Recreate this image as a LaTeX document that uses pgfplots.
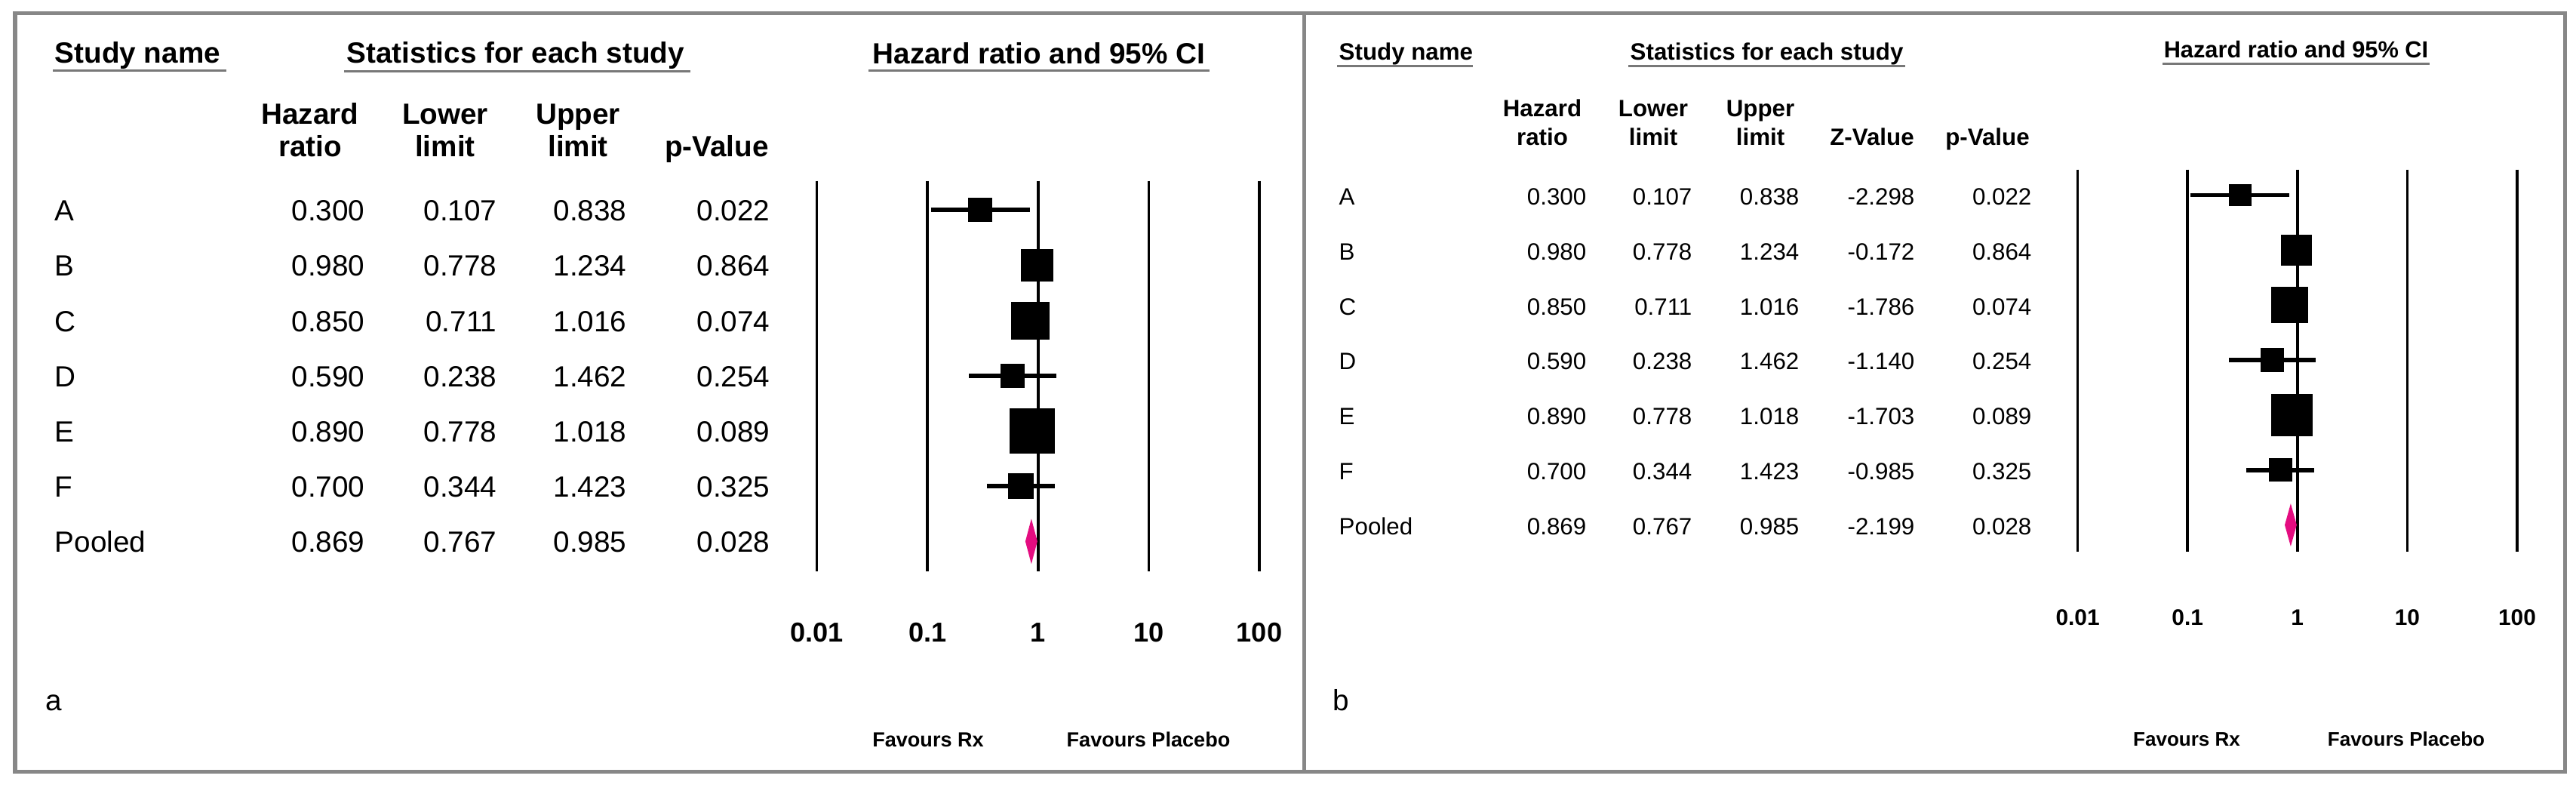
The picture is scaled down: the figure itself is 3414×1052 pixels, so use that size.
\documentclass[border=0pt]{standalone}
\usepackage{fontspec}
\setmainfont{Liberation Sans}
\usepackage{pgfplots}
\pgfplotsset{compat=1.18}
\usepackage{pgfplotstable}
\definecolor{framegray}{RGB}{135,135,135}
\definecolor{ulgray}{RGB}{120,120,120}
\definecolor{pool}{RGB}{228,12,128}

% study rows: row index, hazard ratio, lower, upper, half-side of box (pt)
\pgfplotstableread{
row hr lo hi ms
0 0.300 0.107 0.838 4.4
1 0.980 0.778 1.234 6.0
2 0.850 0.711 1.016 7.0
3 0.590 0.238 1.462 4.4
4 0.890 0.778 1.018 8.4
5 0.700 0.344 1.423 4.7
}\studiesA
\pgfplotstableread{
row hr lo hi ms
0 0.300 0.107 0.838 4.1
1 0.980 0.778 1.234 5.6
2 0.850 0.711 1.016 6.7
3 0.590 0.238 1.462 4.3
4 0.890 0.778 1.018 7.8
5 0.700 0.344 1.423 4.3
}\studiesB

\newcommand\fA{\fontsize{11}{13}\selectfont}
\newcommand\fB{\fontsize{8.9}{10.5}\selectfont}

\pgfplotsset{
  myforest/.style={
    scale only axis, anchor=south west,
    xmin=0.01, xmax=100, y dir=reverse,
    axis line style={draw=none}, tick style={draw=none},
    ytick=\empty, xtick={0.01,0.1,1,10,100},
    xticklabels={0.01,0.1,1,10,100},
    xmajorgrids, grid style={black, line width=1.05pt},
    clip=false,
  },
  ci/.style={black, line width=1.6pt, forget plot},
  boxes/.style={scatter, only marks, mark=square*,
    scatter/use mapped color={draw=black, fill=black},
    visualization depends on={\thisrow{ms} \as \perpointmarksize},
    scatter/@pre marker code/.append style={/tikz/mark size=\perpointmarksize},
    mark options={line width=0pt}},
}

\begin{document}
\begin{tikzpicture}[x=0.01cm,y=0.01cm]
\useasboundingbox (0,0) rectangle (3414,1052);
% panel frames
\draw[framegray, line width=0.05cm] (20,{1052-18}) rectangle (1728,{1052-1023});
\draw[framegray, line width=0.05cm] (1728,{1052-18}) rectangle (3399,{1052-1023});

% ================= Panel a =================
\begin{axis}[xmode=log, myforest, at={(10.82cm,2.95cm)}, width=5.86cm, height=5.17cm,
  ymin=-0.53, ymax=6.54,
  xticklabel style={font=\fontsize{10.3}{12}\selectfont\bfseries, anchor=base, inner sep=0pt, yshift=-0.94cm}]
\addplot[ci] coordinates {(0.107,0) (0.838,0)};
\addplot[ci] coordinates {(0.778,1) (1.234,1)};
\addplot[ci] coordinates {(0.711,2) (1.016,2)};
\addplot[ci] coordinates {(0.238,3) (1.462,3)};
\addplot[ci] coordinates {(0.778,4) (1.018,4)};
\addplot[ci] coordinates {(0.344,5) (1.423,5)};
\addplot[boxes] table[x=hr, y=row, meta=hr] {\studiesA};
\addplot[fill=pool, draw=none] coordinates {(0.767,6) (0.869,5.59) (0.985,6) (0.869,6.41)} -- cycle;
\end{axis}

\begin{scope}[every node/.style={inner sep=0pt}]
\node[anchor=base west, font=\fA\bfseries] at (72,{1052-84}) {Study name};
\draw[ulgray, line width=0.03cm] (70,{1052-94}) -- (300,{1052-94});
\node[anchor=base west, font=\fA\bfseries] at (459,{1052-84}) {Statistics for each study};
\draw[ulgray, line width=0.03cm] (456,{1052-95}) -- (915,{1052-95});
\node[anchor=base, font=\fA\bfseries] at (1377,{1052-85}) {Hazard ratio and 95\% CI};
\draw[ulgray, line width=0.03cm] (1151,{1052-94}) -- (1603,{1052-94});

\node[anchor=base, font=\fA\bfseries] at (411,{1052-165}) {Hazard};
\node[anchor=base, font=\fA\bfseries] at (411,{1052-208}) {ratio};
\node[anchor=base, font=\fA\bfseries] at (590,{1052-165}) {Lower};
\node[anchor=base, font=\fA\bfseries] at (590,{1052-208}) {limit};
\node[anchor=base, font=\fA\bfseries] at (766,{1052-165}) {Upper};
\node[anchor=base, font=\fA\bfseries] at (766,{1052-208}) {limit};
\node[anchor=base, font=\fA\bfseries] at (950,{1052-208}) {p-Value};

\foreach \lab/\hr/\lo/\hi/\p [count=\i from 0] in
  {A/0.300/0.107/0.838/0.022, B/0.980/0.778/1.234/0.864, C/0.850/0.711/1.016/0.074,
   D/0.590/0.238/1.462/0.254, E/0.890/0.778/1.018/0.089, F/0.700/0.344/1.423/0.325,
   Pooled/0.869/0.767/0.985/0.028}{
  \pgfmathsetmacro\yb{1052-(292.8+73.13*\i)}
  \node[anchor=base west, font=\fA] at (72,\yb) {\lab};
  \node[anchor=base east, font=\fA] at (484,\yb) {\hr};
  \node[anchor=base east, font=\fA] at (659,\yb) {\lo};
  \node[anchor=base east, font=\fA] at (831,\yb) {\hi};
  \node[anchor=base east, font=\fA] at (1021,\yb) {\p};
}
\node[anchor=base west, font=\fA] at (60,{1052-942}) {a};
\node[anchor=base, font=\fontsize{7.7}{9}\selectfont\bfseries] at (1230,{1052-990}) {Favours Rx};
\node[anchor=base, font=\fontsize{7.7}{9}\selectfont\bfseries] at (1522,{1052-990}) {Favours Placebo};
\end{scope}

% ================= Panel b =================
\begin{axis}[xmode=log, myforest, at={(27.52cm,3.21cm)}, width=5.82cm, height=5.06cm,
  ymin=-0.467, ymax=6.484,
  xticklabel style={font=\fontsize{8.5}{10}\selectfont\bfseries, anchor=base, inner sep=0pt, yshift=-0.98cm}]
\addplot[ci] coordinates {(0.107,0) (0.838,0)};
\addplot[ci] coordinates {(0.778,1) (1.234,1)};
\addplot[ci] coordinates {(0.711,2) (1.016,2)};
\addplot[ci] coordinates {(0.238,3) (1.462,3)};
\addplot[ci] coordinates {(0.778,4) (1.018,4)};
\addplot[ci] coordinates {(0.344,5) (1.423,5)};
\addplot[boxes] table[x=hr, y=row, meta=hr] {\studiesB};
\addplot[fill=pool, draw=none] coordinates {(0.767,6) (0.869,5.61) (0.985,6) (0.869,6.39)} -- cycle;
\end{axis}

\begin{scope}[every node/.style={inner sep=0pt}]
\node[anchor=base west, font=\fB\bfseries] at (1774,{1052-80}) {Study name};
\draw[ulgray, line width=0.03cm] (1772,{1052-88}) -- (1952,{1052-88});
\node[anchor=base west, font=\fB\bfseries] at (2160,{1052-80}) {Statistics for each study};
\draw[ulgray, line width=0.03cm] (2158,{1052-88}) -- (2525,{1052-88});
\node[anchor=base, font=\fontsize{8.75}{10.5}\selectfont\bfseries] at (3043,{1052-77}) {Hazard ratio and 95\% CI};
\draw[ulgray, line width=0.03cm] (2866,{1052-85}) -- (3220,{1052-85});

\node[anchor=base, font=\fB\bfseries] at (2044,{1052-155}) {Hazard};
\node[anchor=base, font=\fB\bfseries] at (2044,{1052-193}) {ratio};
\node[anchor=base, font=\fB\bfseries] at (2191,{1052-155}) {Lower};
\node[anchor=base, font=\fB\bfseries] at (2191,{1052-193}) {limit};
\node[anchor=base, font=\fB\bfseries] at (2333,{1052-155}) {Upper};
\node[anchor=base, font=\fB\bfseries] at (2333,{1052-193}) {limit};
\node[anchor=base, font=\fB\bfseries] at (2481,{1052-193}) {Z-Value};
\node[anchor=base, font=\fB\bfseries] at (2634,{1052-193}) {p-Value};

\foreach \lab/\hr/\lo/\hi/\z/\p [count=\i from 0] in
  {A/0.300/0.107/0.838/-2.298/0.022, B/0.980/0.778/1.234/-0.172/0.864,
   C/0.850/0.711/1.016/-1.786/0.074, D/0.590/0.238/1.462/-1.140/0.254,
   E/0.890/0.778/1.018/-1.703/0.089, F/0.700/0.344/1.423/-0.985/0.325,
   Pooled/0.869/0.767/0.985/-2.199/0.028}{
  \pgfmathsetmacro\yb{1052-(271.5+72.8*\i)}
  \node[anchor=base west, font=\fB] at (1774,\yb) {\lab};
  \node[anchor=base east, font=\fB] at (2103,\yb) {\hr};
  \node[anchor=base east, font=\fB] at (2243,\yb) {\lo};
  \node[anchor=base east, font=\fB] at (2385,\yb) {\hi};
  \node[anchor=base east, font=\fB] at (2538,\yb) {\z};
  \node[anchor=base east, font=\fB] at (2693,\yb) {\p};
}
\node[anchor=base west, font=\fA] at (1766,{1052-942}) {b};
\node[anchor=base, font=\fontsize{7.4}{9}\selectfont\bfseries] at (2898,{1052-989}) {Favours Rx};
\node[anchor=base, font=\fontsize{7.4}{9}\selectfont\bfseries] at (3189,{1052-989}) {Favours Placebo};
\end{scope}
\end{tikzpicture}
\end{document}
